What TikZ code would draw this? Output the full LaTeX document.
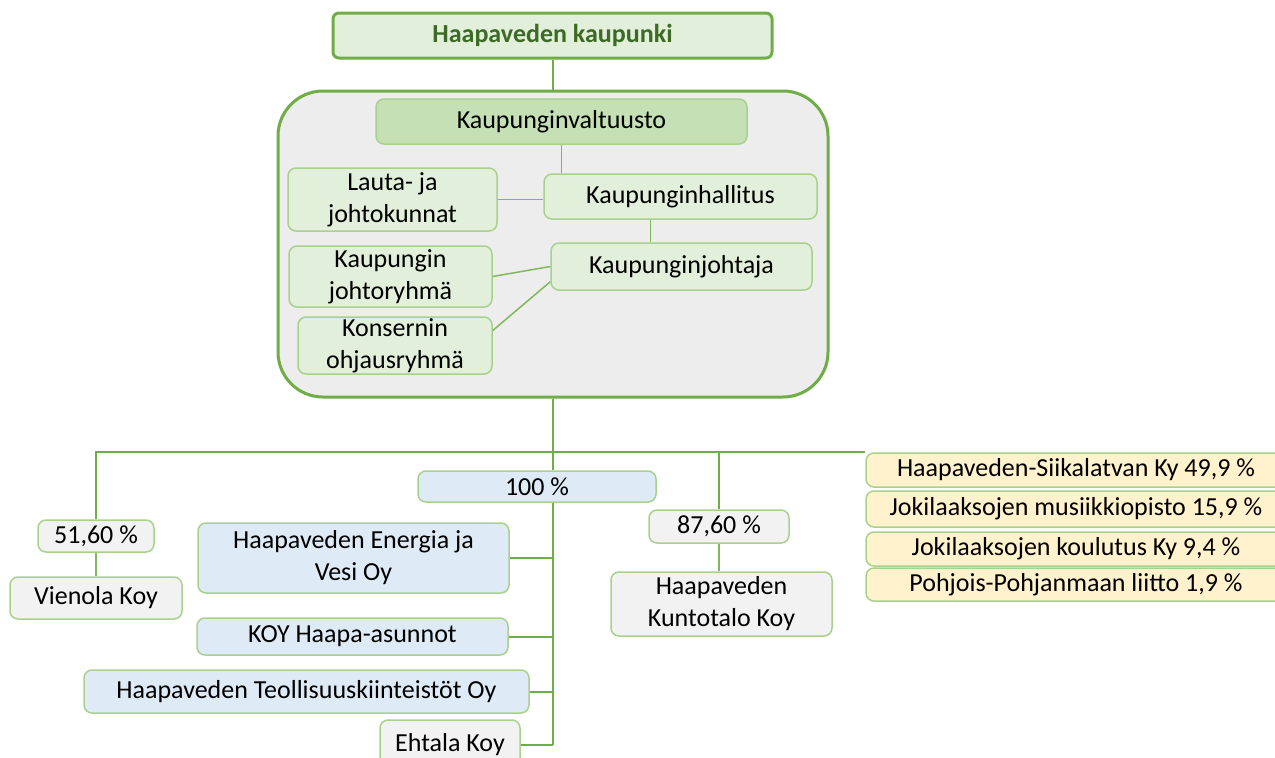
\documentclass[tikz,border=0pt]{standalone}
\usepackage{fontspec}
\setmainfont{Carlito}
\usetikzlibrary{positioning}
\definecolor{grline}{HTML}{70AD47}
\definecolor{grlight}{HTML}{A9D18E}
\definecolor{grfill}{HTML}{E2EFDA}
\definecolor{grmid}{HTML}{C5E0B4}
\definecolor{grdark}{HTML}{3B6B24}
\definecolor{bluefill}{HTML}{DEEBF7}
\definecolor{greyfill}{HTML}{F2F2F2}
\definecolor{panelfill}{HTML}{EDEDED}
\definecolor{yelfill}{HTML}{FFF2CC}
\begin{document}
\begin{tikzpicture}[x=1pt,y=-1pt,
    box/.style={draw=grlight, line width=1.5pt, rounded corners=8pt, align=center, inner sep=0pt, font=\fontsize{26}{32}\selectfont},
    greenbox/.style={box, fill=grfill},
    bluebox/.style={box, fill=bluefill},
    greybox/.style={box, fill=greyfill},
    yellowbox/.style={box, fill=yelfill},
    link/.style={grline, line width=2pt},
    thinlink/.style={grline!70!grlight, line width=1.5pt}]
  \useasboundingbox (0,0) rectangle (1275,758);
  \fill[white] (0,0) rectangle (1275,758);
  \clip (0,0) rectangle (1275,758);

  % city and council panel
  \node[draw=grline, line width=3pt, fill=grfill, rounded corners=6pt, minimum width=439pt, minimum height=45pt, font=\fontsize{26}{32}\selectfont\bfseries, text=grdark] (city) at (552.5,35.5) {Haapaveden kaupunki};
  \node[draw=grline, line width=3pt, fill=panelfill, rounded corners=45pt, minimum width=550pt, minimum height=306pt] (panel) at (553,244) {};
  \node[box, fill=grmid, minimum width=371pt, minimum height=45pt] (valtuusto) at (561.5,121.5) {Kaupunginvaltuusto};
  \node[greenbox, minimum width=273pt, minimum height=45pt] (hallitus) at (680.5,196.5) {Kaupunginhallitus};
  \node[greenbox, minimum width=209pt, minimum height=63pt] (lauta) at (392.5,199.5) {Lauta- ja\\johtokunnat};
  \node[greenbox, minimum width=261pt, minimum height=47pt] (johtaja) at (681.5,266.5) {Kaupunginjohtaja};
  \node[greenbox, minimum width=203pt, minimum height=61pt] (johtoryhma) at (390.5,276.5) {Kaupungin\\johtoryhmä};
  \node[greenbox, minimum width=194pt, minimum height=57pt] (ohjaus) at (395,345.5) {Konsernin\\ohjausryhmä};

  % companies
  \node[greybox, minimum width=116pt, minimum height=32pt] (p516) at (96,536) {51,60 \%};
  \node[greybox, minimum width=172pt, minimum height=42pt] (vienola) at (96,598) {Vienola Koy};
  \node[bluebox, minimum width=238pt, minimum height=31pt] (p100) at (537,486.5) {100 \%};
  \node[bluebox, minimum width=311pt, minimum height=70pt] (energia) at (353.5,558) {Haapaveden Energia ja\\Vesi Oy};
  \node[bluebox, minimum width=311pt, minimum height=37pt] (haapa) at (352.5,636.5) {KOY Haapa-asunnot};
  \node[bluebox, minimum width=445pt, minimum height=43pt] (teoll) at (306.5,691.5) {Haapaveden Teollisuuskiinteistöt Oy};
  \node[greybox, minimum width=140pt, minimum height=50pt] (ehtala) at (450,745) {Ehtala Koy};
  \node[greybox, minimum width=140pt, minimum height=33pt] (p876) at (719,526.5) {87,60 \%};
  \node[greybox, minimum width=221pt, minimum height=64pt] (kuntotalo) at (721.5,604) {Haapaveden\\Kuntotalo Koy};
  \node[yellowbox, minimum width=420pt, minimum height=34pt] (siika) at (1076,470) {Haapaveden-Siikalatvan Ky 49,9 \%};
  \node[yellowbox, minimum width=420pt, minimum height=36pt] (musiikki) at (1076,509) {Jokilaaksojen musiikkiopisto 15,9 \%};
  \node[yellowbox, minimum width=420pt, minimum height=34pt] (koulutus) at (1076,549) {Jokilaaksojen koulutus Ky 9,4 \%};
  \node[yellowbox, minimum width=420pt, minimum height=33pt] (liitto) at (1076,584.5) {Pohjois-Pohjanmaan liitto 1,9 \%};

  % connectors inside the panel
  \coordinate (hj) at ([xshift=-30pt]hallitus.south);
  \draw[thinlink] (valtuusto.south) -- (valtuusto.south |- hallitus.north);
  \draw[thinlink] (lauta.east) -- (lauta.east -| hallitus.west);
  \draw[thinlink] (hj) -- (hj |- johtaja.north);
  \draw[thinlink] (johtoryhma.east) -- (johtaja.west);
  \draw[thinlink] ([yshift=15pt]ohjaus.east) -- ([yshift=9pt]johtaja.south west);

  % ownership tree
  \draw[link] (city.south) -- (city.south |- panel.north);
  \draw[link] (panel.south) -- (panel.south |- p100.north);
  \draw[link] (panel.south |- p100.south) -- (panel.south |- ehtala.east);
  \draw[link] (p516.north) |- (siika.north west);
  \draw[link] (p876.north |- siika.north west) -- (p876.north);
  \draw[thinlink] (p516.south) -- (vienola.north);
  \draw[thinlink] (p876.south) -- (p876.south |- kuntotalo.north);
  \draw[link] (energia.east) -- (energia.east -| panel.south);
  \draw[link] (haapa.east) -- (haapa.east -| panel.south);
  \draw[link] (teoll.east) -- (teoll.east -| panel.south);
  \draw[link] (ehtala.east) -- (ehtala.east -| panel.south);
\end{tikzpicture}
\end{document}
